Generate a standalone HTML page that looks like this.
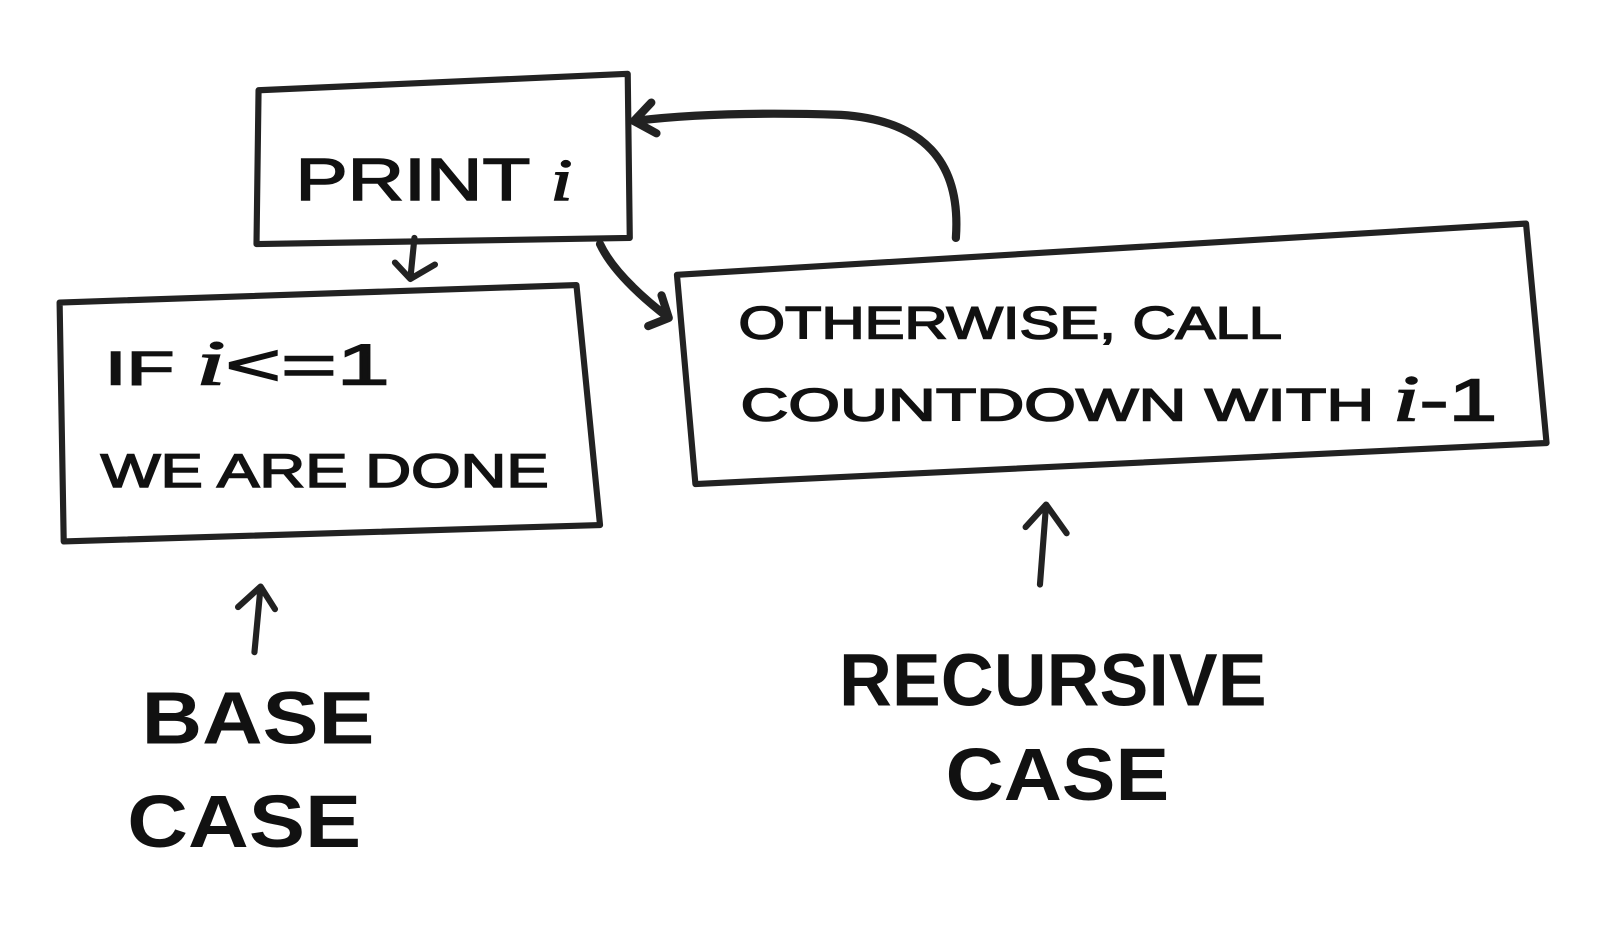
<!DOCTYPE html>
<html><head><style>
html,body{margin:0;padding:0;background:#fff;width:1600px;height:926px;overflow:hidden}
svg{display:block}
text{font-family:"Liberation Sans",sans-serif;fill:#111}
</style></head><body>
<svg width="1600" height="926" viewBox="0 0 1560 903" xmlns="http://www.w3.org/2000/svg">
<g fill="none" stroke="#222" stroke-width="6" stroke-linejoin="round" stroke-linecap="round">
<path d="M252,88 L612,72 L614,232 L250,238 Z"/>
<path d="M58,295 L562,278 L585,512 L62,528 Z"/>
<path d="M660,268 L1488,218 L1508,432 L678,472 Z"/>
<path d="M404,232 L400,272 M385,256 L400,272 L424,258"/>
<path d="M585,238 Q600,270 652,310 M632,318 L652,310 L645,288" stroke-width="8"/>
<path d="M932,232 Q940,120 820,112 Q700,108 618,118 M635,100 L618,118 L640,130" stroke-width="8"/>
<path d="M248,636 L254,572 M232,592 L254,572 L268,594" stroke-width="6"/>
<path d="M1014,570 L1020,492 M1000,514 L1020,492 L1040,520" stroke-width="6"/>
</g>
<g stroke="#111" stroke-width="1.5">
<text x="288" y="195" font-size="58" textLength="270" lengthAdjust="spacingAndGlyphs">PRINT <tspan font-style="italic" font-family="Liberation Serif">i</tspan></text>
<text x="102" y="375" font-size="46" textLength="278" lengthAdjust="spacingAndGlyphs">IF <tspan font-size="62" font-style="italic" font-family="Liberation Serif">i</tspan><tspan font-size="56">&lt;=1</tspan></text>
<text x="98" y="475" font-size="46" textLength="437" lengthAdjust="spacingAndGlyphs">WE ARE DONE</text>
<text x="720" y="330" font-size="44" textLength="530" lengthAdjust="spacingAndGlyphs">OTHERWISE, CALL</text>
<text x="722" y="410" font-size="44" textLength="738" lengthAdjust="spacingAndGlyphs">COUNTDOWN WITH <tspan font-size="64" font-style="italic" font-family="Liberation Serif">i</tspan><tspan font-size="58">-1</tspan></text>
</g>
<text x="138" y="725" font-size="72" font-weight="bold" textLength="227" lengthAdjust="spacingAndGlyphs">BASE</text>
<text x="124" y="826" font-size="72" font-weight="bold" textLength="228" lengthAdjust="spacingAndGlyphs">CASE</text>
<text x="818" y="688" font-size="72" font-weight="bold" textLength="417" lengthAdjust="spacingAndGlyphs">RECURSIVE</text>
<text x="922" y="780" font-size="72" font-weight="bold" textLength="218" lengthAdjust="spacingAndGlyphs">CASE</text>
</svg>
</body></html>
